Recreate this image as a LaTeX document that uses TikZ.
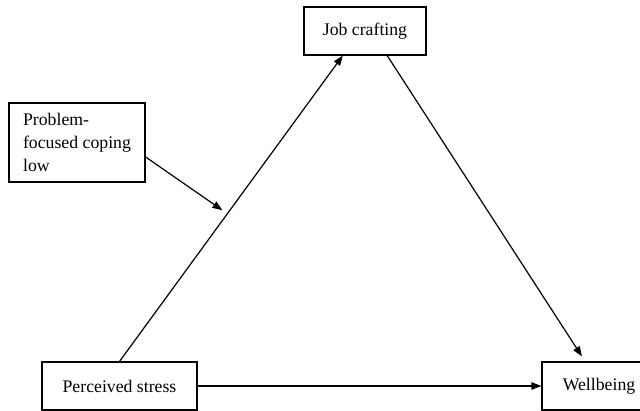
\documentclass[tikz,border=0pt]{standalone}
\usepackage{fontspec}
\setmainfont{Liberation Serif}
\usetikzlibrary{calc,arrows.meta}

\begin{document}
\begin{tikzpicture}[x=0.75pt, y=-0.75pt,
    box/.style={draw, line width=0.8pt, inner sep=0pt, font=\fontsize{13.3}{17.2}\selectfont},
    path/.style={line width=0.9pt, -{Triangle[length=7.5pt, width=5.5pt]}}]
    \useasboundingbox (0,0) rectangle (640,411);
    % the four variables
    \node[box, minimum width=91.5pt, minimum height=36pt] (job) at (365,31) {Job crafting};
    \node[box, align=left, minimum width=102pt, minimum height=59.25pt] (prob) at (77,142.5) {Problem-\\focused coping\\low};
    \node[box, minimum width=116.25pt, minimum height=36pt] (perc) at (119.5,386) {Perceived stress};
    \node[box, minimum width=85.5pt, minimum height=36pt] (well) at (599,386) {Wellbeing};
    % paths of the mediation model
    \draw[path] (perc.north) -- coordinate[pos=0.483] (hit) ($(job.south west)!0.32!(job.south east)$);
    \draw[path, shorten >=4.5pt] ($(job.south west)!0.68!(job.south east)$) -- ($(well.north west)!0.38!(well.north east)$);
    \draw[path] (perc.east) -- (well.west);
    % moderator
    \draw[path, shorten >=4.5pt] ($(prob.south east)!0.32!(prob.north east)$) -- (hit);
\end{tikzpicture}
\end{document}
